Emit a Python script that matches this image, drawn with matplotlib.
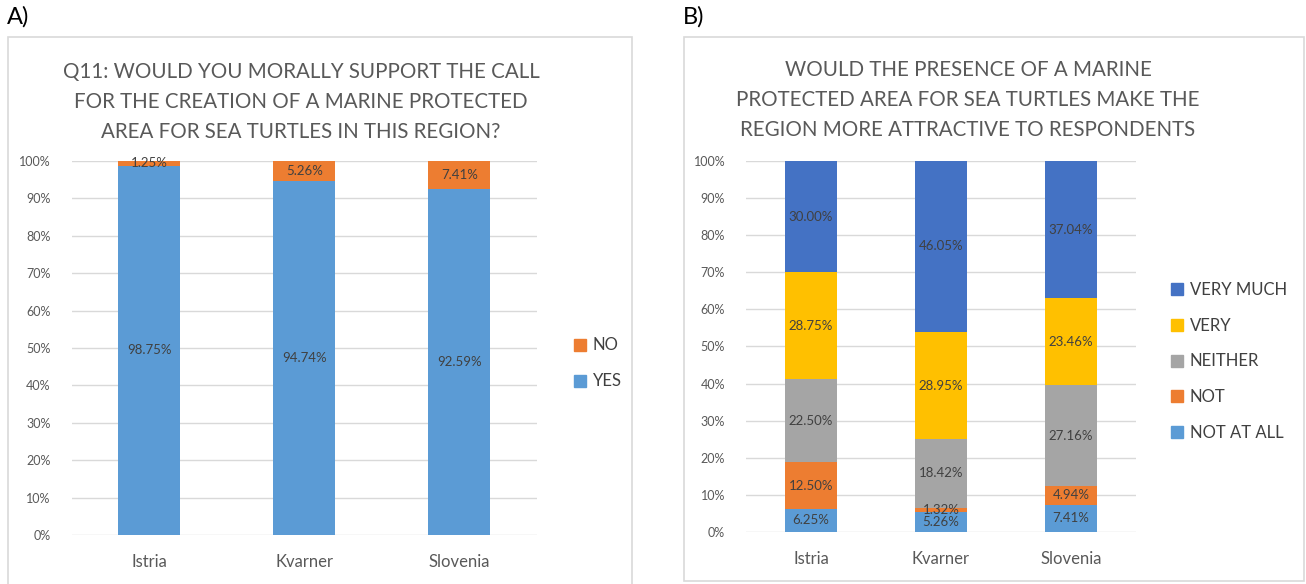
import numpy as np
import matplotlib
matplotlib.use("Agg")
import matplotlib.pyplot as plt
from matplotlib.patches import Rectangle, Patch

plt.rcParams['font.family'] = ['Lato', 'DejaVu Sans']

# survey results, percent of respondents per region
regions = ['Istria', 'Kvarner', 'Slovenia']

support_yes = [98.75, 94.74, 92.59]
support_no = [1.25, 5.26, 7.41]

attr_not_at_all = [6.25, 5.26, 7.41]
attr_not = [12.50, 1.32, 4.94]
attr_neither = [22.50, 18.42, 27.16]
attr_very = [28.75, 28.95, 23.46]
attr_very_much = [30.00, 46.05, 37.04]

yticks = np.arange(0, 101, 10)

W, H = 1306, 584
BLUE = '#5B9BD5'
ORANGE = '#ED7D31'
GREY = '#A5A5A5'
YELLOW = '#FFC000'
DBLUE = '#4472C4'
TXT = '#595959'
LBL = '#404040'


def px(x0, y_top, w, h):
    # pixel box (left, top, width, height) -> figure fraction rect
    return [x0 / W, (H - y_top - h) / H, w / W, h / H]


def style_axes(ax):
    ax.set_xlim(-0.5, 2.5)
    ax.set_ylim(0, 100)
    ax.set_yticks(yticks)
    ax.set_yticklabels(['%d%%' % t for t in yticks], color=TXT, fontsize=9)
    ax.set_xticks(range(len(regions)))
    ax.set_xticklabels(regions, color=TXT, fontsize=12)
    ax.tick_params(length=0)
    ax.tick_params(axis='y', pad=15)
    ax.tick_params(axis='x', pad=14)
    for s in ax.spines.values():
        s.set_visible(False)
    ax.yaxis.grid(True, color='#D9D9D9', lw=1)
    ax.set_axisbelow(True)


def stack(ax, series, colors, names):
    x = np.arange(len(regions))
    bottom = np.zeros(len(regions))
    handles = []
    for vals, c, n in zip(series, colors, names):
        vals = np.array(vals)
        bars = ax.bar(x, vals, 0.4, bottom=bottom, color=c, label=n)
        for xi, b, v in zip(x, bottom, vals):
            ax.text(xi, b + v / 2, '%.2f%%' % v, ha='center', va='center',
                    fontsize=9.5, color=LBL)
        bottom += vals
        handles.append(bars)
    return handles


fig = plt.figure(figsize=(W / 100, H / 100), dpi=100)

# panel frames
fig.add_artist(Rectangle((8 / W, -0.05), 624 / W, (H - 37) / H + 0.05,
                         transform=fig.transFigure, fill=False,
                         ec='#D9D9D9', lw=1.2))
fig.add_artist(Rectangle((684 / W, (H - 581) / H), 620 / W, 544 / H,
                         transform=fig.transFigure, fill=False,
                         ec='#D9D9D9', lw=1.2))

fig.text(7 / W, 1 - 17 / H, 'A)', fontsize=17, va='center', ha='left')
fig.text(683 / W, 1 - 17 / H, 'B)', fontsize=17, va='center', ha='left')

# A) moral support
axA = fig.add_axes(px(71.5, 161, 465.5, 374))
style_axes(axA)
stack(axA, [support_yes, support_no], [BLUE, ORANGE], ['YES', 'NO'])
fig.text(301 / W, 1 - 102 / H,
         'Q11: WOULD YOU MORALLY SUPPORT THE CALL\n'
         'FOR THE CREATION OF A MARINE PROTECTED\n'
         'AREA FOR SEA TURTLES IN THIS REGION?',
         ha='center', va='center', fontsize=14.8, color=TXT, linespacing=1.63)
hA = [Patch(color=ORANGE), Patch(color=BLUE)]
fig.legend(hA, ['NO', 'YES'], loc='center left',
           bbox_to_anchor=(566 / W, (H - 363.5) / H), frameon=False,
           fontsize=12, handlelength=0.7, handleheight=0.7,
           handletextpad=0.4, labelspacing=1.2, borderpad=0,
           labelcolor=LBL)

# B) attractiveness of the region
axB = fig.add_axes(px(746, 161, 390, 371))
style_axes(axB)
stack(axB, [attr_not_at_all, attr_not, attr_neither, attr_very, attr_very_much],
      [BLUE, ORANGE, GREY, YELLOW, DBLUE],
      ['NOT AT ALL', 'NOT', 'NEITHER', 'VERY', 'VERY MUCH'])
fig.text(968 / W, 1 - 100 / H,
         'WOULD THE PRESENCE OF A MARINE\n'
         'PROTECTED AREA FOR SEA TURTLES MAKE THE\n'
         'REGION MORE ATTRACTIVE TO RESPONDENTS',
         ha='center', va='center', fontsize=14.8, color=TXT, linespacing=1.6)
hB = [Patch(color=c) for c in [DBLUE, YELLOW, GREY, ORANGE, BLUE]]
fig.legend(hB, ['VERY MUCH', 'VERY', 'NEITHER', 'NOT', 'NOT AT ALL'],
           loc='center left', bbox_to_anchor=(1163 / W, (H - 361.5) / H),
           frameon=False, fontsize=12, handlelength=0.7, handleheight=0.7,
           handletextpad=0.4, labelspacing=1.18, borderpad=0, labelcolor=LBL)

fig.savefig('out.png', dpi=100)
